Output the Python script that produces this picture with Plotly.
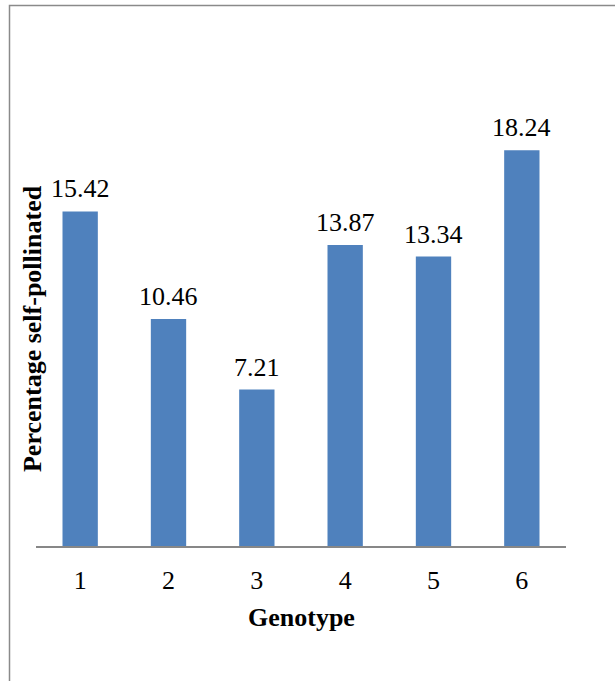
import plotly.graph_objects as go

genotypes = ["1", "2", "3", "4", "5", "6"]
self_pollinated_pct = [15.42, 10.46, 7.21, 13.87, 13.34, 18.24]
value_labels = ["15.42", "10.46", "7.21", "13.87", "13.34", "18.24"]

serif = "Liberation Serif, Times New Roman, serif"
font_size = 26

fig = go.Figure(
    go.Bar(
        x=genotypes,
        y=self_pollinated_pct,
        marker=dict(color="#4F81BD", line=dict(width=0)),
        width=0.4,
        hoverinfo="x+y",
    )
)

# value labels sitting just above each bar (category axis -> positional index)
annotations = [
    dict(
        x=i,
        y=v,
        xref="x",
        yref="y",
        text=lbl,
        showarrow=False,
        yanchor="bottom",
        xanchor="center",
        yshift=6,
        font=dict(family=serif, size=font_size, color="#000000"),
    )
    for i, (v, lbl) in enumerate(zip(self_pollinated_pct, value_labels))
]

annotations += [
    dict(
        text="<b>Percentage self-pollinated</b>",
        textangle=-90,
        xref="paper",
        yref="paper",
        x=-0.0075,
        y=0.5,
        xanchor="center",
        yanchor="middle",
        showarrow=False,
        font=dict(family=serif, size=font_size, color="#000000"),
    ),
    dict(
        text="<b>Genotype</b>",
        xref="paper",
        yref="paper",
        x=0.5,
        y=-0.1636,
        xanchor="center",
        yanchor="middle",
        showarrow=False,
        font=dict(family=serif, size=font_size, color="#000000"),
    ),
]

fig.update_layout(
    width=615,
    height=681,
    margin=dict(l=36, r=49, t=112, b=135),
    paper_bgcolor="white",
    plot_bgcolor="white",
    showlegend=False,
    xaxis=dict(
        type="category",
        showline=True,
        linecolor="#878787",
        linewidth=1.5,
        ticks="outside",
        ticklen=10,
        tickcolor="rgba(0,0,0,0)",
        tickfont=dict(family=serif, size=font_size, color="#000000"),
        showgrid=False,
    ),
    yaxis=dict(
        range=[0, 20],
        visible=False,
        showgrid=False,
        zeroline=False,
    ),
    annotations=annotations,
    shapes=[
        dict(
            type="rect",
            xref="paper",
            yref="paper",
            x0=-0.05,
            x1=1.15,
            y0=-0.4,
            y1=1.2454,
            line=dict(color="#8a8a8a", width=1.5),
            fillcolor="rgba(0,0,0,0)",
            layer="below",
        )
    ],
)

fig.write_html("out.html")
